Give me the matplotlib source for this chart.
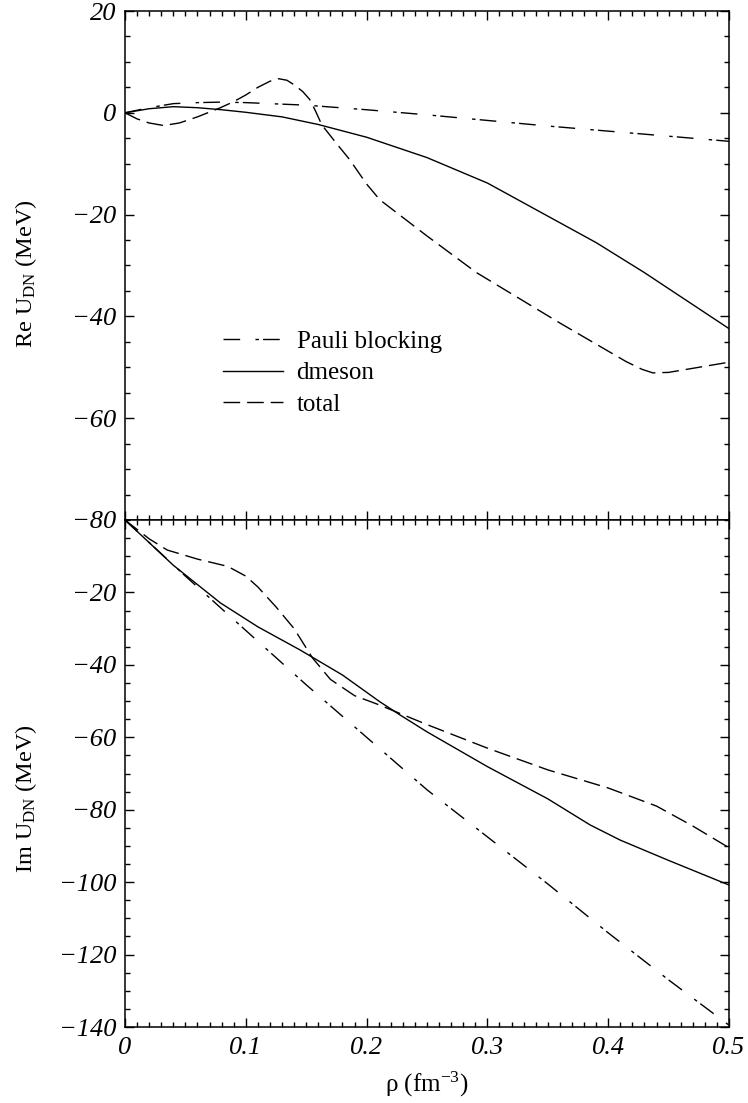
import matplotlib
matplotlib.use("Agg")
import matplotlib.pyplot as plt
from matplotlib.ticker import MultipleLocator, FixedLocator, FixedFormatter

plt.rcParams['font.family'] = ['Liberation Serif', 'DejaVu Serif']
plt.rcParams['mathtext.fontset'] = 'custom'
plt.rcParams['mathtext.rm'] = 'Liberation Serif'
plt.rcParams['mathtext.it'] = 'Liberation Serif:italic'
plt.rcParams['axes.unicode_minus'] = True

# ---------------- data ----------------
# Real part
re_pauli_x = [0, 0.02, 0.04, 0.06, 0.08, 0.1, 0.15, 0.2, 0.25, 0.3, 0.35, 0.4, 0.45, 0.5]
re_pauli_y = [0, 1.0, 1.8, 2.0, 2.1, 2.0, 1.5, 0.6, -0.4, -1.5, -2.6, -3.6, -4.6, -5.6]

re_dmeson_x = [0, 0.02, 0.04, 0.06, 0.08, 0.1, 0.13, 0.16, 0.2, 0.25, 0.3, 0.34, 0.39, 0.43, 0.5]
re_dmeson_y = [0, 0.8, 1.2, 1.0, 0.6, 0.1, -0.8, -2.3, -4.8, -8.8, -13.8, -19.0, -25.5, -31.4, -42.4]

re_total_x = [0, 0.01, 0.02, 0.032, 0.045, 0.06, 0.079, 0.09, 0.1, 0.11, 0.12, 0.127, 0.134,
              0.14, 0.147, 0.153, 0.158, 0.163, 0.175, 0.186, 0.2, 0.211, 0.25, 0.291, 0.36,
              0.415, 0.428, 0.437, 0.45, 0.5]
re_total_y = [0, -1.2, -2.0, -2.5, -2.0, -0.8, 1.0, 2.2, 3.5, 5.0, 6.2, 6.7, 6.4,
              5.5, 4.2, 2.6, 0.2, -2.4, -6.0, -9.2, -14.0, -17.1, -24.2, -31.4, -41.3,
              -48.9, -50.4, -51.1, -51.0, -49.0]

# Imaginary part
im_pauli_x = [0, 0.05, 0.1, 0.15, 0.2, 0.25, 0.3, 0.35, 0.4, 0.45, 0.5]
im_pauli_y = [0, -15.5, -30.5, -45.5, -60.0, -74.5, -87.5, -100.5, -114.0, -127.0, -139.5]

im_dmeson_x = [0, 0.04, 0.079, 0.11, 0.145, 0.18, 0.211, 0.228, 0.25, 0.3, 0.35, 0.385, 0.41, 0.45, 0.5]
im_dmeson_y = [0, -12.5, -22.9, -29.5, -35.9, -42.8, -50.2, -53.9, -58.5, -68.1, -77.0, -84.2, -88.4, -94.0, -100.8]

im_total_x = [0, 0.02, 0.035, 0.06, 0.085, 0.1, 0.11, 0.125, 0.14, 0.155, 0.17, 0.19, 0.21,
              0.25, 0.3, 0.35, 0.4, 0.44, 0.47, 0.5]
im_total_y = [0, -5.2, -8.3, -10.8, -12.8, -15.5, -18.5, -24.0, -30.0, -38.0, -44.0, -48.5, -51.0,
              -56.5, -63.0, -69.0, -74.0, -79.0, -84.5, -90.5]

labels = ['Pauli blocking', 'dmeson', 'total']
xticks = [0, 0.1, 0.2, 0.3, 0.4, 0.5]
xtick_labels = ['0', '0.1', '0.2', '0.3', '0.4', '0.5']
re_yticks = [20, 0, -20, -40, -60, -80]
im_yticks = [-20, -40, -60, -80, -100, -120, -140]

# ---------------- figure ----------------
fig = plt.figure(figsize=(7.48, 11.03), dpi=100)
L, R = 125 / 748, 729 / 748
y_top, y_mid, y_bot = 1 - 11 / 1103, 1 - 520 / 1103, 1 - 1027 / 1103
ax1 = fig.add_axes([L, y_mid, R - L, y_top - y_mid])
ax2 = fig.add_axes([L, y_bot, R - L, y_mid - y_bot])

pauli_style = dict(color='black', lw=1.0, dashes=(12, 11, 2.5, 3))
dmeson_style = dict(color='black', lw=1.0, linestyle='-')
total_style = dict(color='black', lw=1.0, dashes=(12, 5))

ax1.plot(re_pauli_x, re_pauli_y, label=labels[0], **pauli_style)
ax1.plot(re_dmeson_x, re_dmeson_y, label=labels[1], **dmeson_style)
ax1.plot(re_total_x, re_total_y, label=labels[2], **total_style)

ax2.plot(im_pauli_x, im_pauli_y, **pauli_style)
ax2.plot(im_dmeson_x, im_dmeson_y, **dmeson_style)
ax2.plot(im_total_x, im_total_y, **total_style)

tick_font = dict(family='Liberation Serif', style='italic', size=19)

for ax in (ax1, ax2):
    ax.set_xlim(0, 0.5)
    ax.xaxis.set_major_locator(FixedLocator(xticks))
    ax.xaxis.set_minor_locator(MultipleLocator(0.01))
    ax.yaxis.set_minor_locator(MultipleLocator(5))
    ax.tick_params(which='both', direction='in', top=True, right=True, width=1.0)
    ax.tick_params(which='major', length=6.5)
    ax.tick_params(which='minor', length=3.3)
    for s in ax.spines.values():
        s.set_linewidth(1.1)

ax1.set_ylim(-80, 20)
ax1.yaxis.set_major_locator(FixedLocator(re_yticks))
ax1.set_yticklabels([t.replace('-', '\u2212') for t in map(str, re_yticks)], fontdict=tick_font)
ax1.tick_params(axis='x', labelbottom=False)

ax2.set_ylim(-140, 0)
ax2.yaxis.set_major_locator(FixedLocator(im_yticks))
ax2.set_yticklabels([t.replace('-', '\u2212') for t in map(str, im_yticks)], fontdict=tick_font)
ax2.xaxis.set_major_formatter(FixedFormatter(xtick_labels))
for lab in ax2.get_xticklabels():
    lab.set_fontstyle('italic')
    lab.set_fontsize(19)
ax2.tick_params(axis='x', pad=7)
ax2.tick_params(axis='y', pad=6)
ax1.tick_params(axis='y', pad=6)

ax1.set_ylabel(r'Re U$_{\rm DN}$ (MeV)', fontsize=17.5)
ax2.set_ylabel(r'Im U$_{\rm DN}$ (MeV)', fontsize=17.5)
ax1.yaxis.set_label_coords(-0.142, 0.485)
ax2.yaxis.set_label_coords(-0.142, 0.45)
ax2.set_xlabel(r'ρ (fm$^{-3}$)', fontsize=18, labelpad=8)

ax1.legend(loc='upper left', bbox_to_anchor=(0.162, 0.372), frameon=False,
           fontsize=18, handlelength=2.4, handletextpad=0.55, labelspacing=0.35,
           borderpad=0, borderaxespad=0)

fig.savefig('out.png', dpi=100)
